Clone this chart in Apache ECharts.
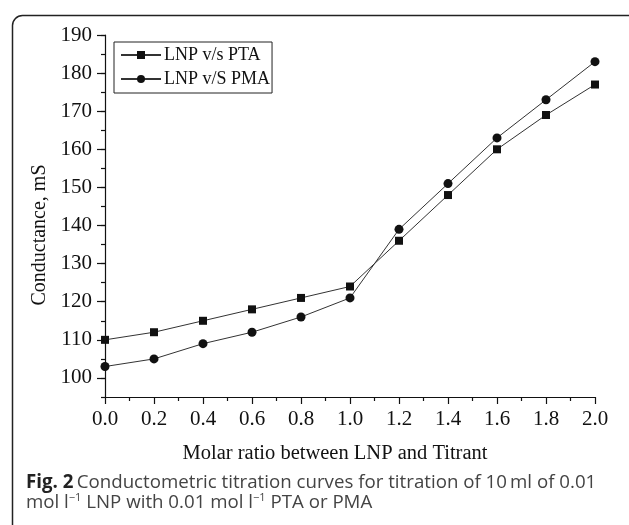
<!DOCTYPE html>
<html>
<head>
<meta charset="utf-8">
<script src="https://cdn.jsdelivr.net/npm/echarts@6/dist/echarts.min.js"></script>
<style>html,body{margin:0;padding:0;background:#fff}#c{width:629px;height:525px}</style>
</head>
<body>
<div id="c"></div>
<script>
var molarRatio = [0.0, 0.2, 0.4, 0.6, 0.8, 1.0, 1.2, 1.4, 1.6, 1.8, 2.0];
var ptaValues = [110, 112, 115, 118, 121, 124, 136, 148, 160, 169, 177];
var pmaValues = [103, 105, 109, 112, 116, 121, 139, 151, 163, 173, 183];
var yLabelValues = [100, 110, 120, 130, 140, 150, 160, 170, 180, 190];
var seriesNames = ['LNP v/s PTA', 'LNP v/S PMA'];

var serif = '"Liberation Serif","DejaVu Serif",serif';
var sans = '"Open Sans","Noto Sans",sans-serif';
function pairs(xs, ys){ return xs.map(function(x,i){ return [x, ys[i]]; }); }

var chart = echarts.init(document.getElementById('c'), null, {renderer:'canvas'});
chart.setOption({
  animation: false,
  backgroundColor: '#fff',
  grid: {left: 105, right: 34, top: 35, bottom: 128, containLabel: false},
  legend: {
    orient: 'vertical', left: 114, top: 42,
    padding: [4, 2, 5, 6], itemGap: 6,
    borderColor: '#222', borderWidth: 1,
    itemWidth: 40, itemHeight: 10,
    textStyle: {fontFamily: serif, fontSize: 18, color: '#111', padding: [0,0,0,-2]},
    data: seriesNames
  },
  xAxis: {
    type: 'value', min: 0, max: 2, interval: 0.2,
    name: 'Molar ratio between LNP and Titrant',
    nameLocation: 'middle', nameGap: 46,
    nameTextStyle: {fontFamily: serif, fontSize: 20.5, color: '#111', padding: [0, 30, 0, 0]},
    axisLine: {lineStyle: {color: '#111', width: 1.2}},
    axisTick: {length: 7, lineStyle: {color: '#111', width: 1.2}},
    minorTick: {show: true, splitNumber: 2, length: 4, lineStyle: {color: '#111', width: 1.2}},
    splitLine: {show: false}, minorSplitLine: {show: false},
    axisLabel: {fontFamily: serif, fontSize: 21, color: '#111', margin: 12,
      formatter: function(v){ return v.toFixed(1); }}
  },
  yAxis: [{
    type: 'value', min: 95, max: 190, interval: 5,
    name: 'Conductance, mS',
    nameLocation: 'middle', nameGap: 54, nameRotate: 90,
    nameTextStyle: {fontFamily: serif, fontSize: 20, color: '#111', padding: [0, 0, 0, -38]},
    axisLine: {show: true, lineStyle: {color: '#111', width: 1.2}},
    axisTick: {show: true, length: 4, lineStyle: {color: '#111', width: 1.2}},
    splitLine: {show: false},
    axisLabel: {fontFamily: serif, fontSize: 21, color: '#111', margin: 13,
      formatter: function(v){ return (v % 10 === 0) ? String(v) : ''; }}
  }, {
    type: 'value', min: 95, max: 190, interval: 5, position: 'left',
    axisLine: {show: false},
    axisTick: {show: true, length: 8, customValues: yLabelValues, lineStyle: {color: '#111', width: 1.2}},
    axisLabel: {show: false},
    splitLine: {show: false}
  }],
  series: [{
    name: seriesNames[0], type: 'line', data: pairs(molarRatio, ptaValues),
    symbol: 'rect', symbolSize: 8,
    lineStyle: {color: '#333', width: 1},
    itemStyle: {color: '#111'}
  }, {
    name: seriesNames[1], type: 'line', data: pairs(molarRatio, pmaValues),
    symbol: 'circle', symbolSize: 9,
    lineStyle: {color: '#333', width: 1},
    itemStyle: {color: '#111'}
  }],
  graphic: [{
    type: 'rect', left: 10, top: 13, silent: true,
    shape: {x: 0, y: 0, width: 625, height: 540, r: 10},
    style: {fill: 'none', stroke: '#222', lineWidth: 1.5}
  }, {
    type: 'text', left: 26, top: 473,
    style: {
      text: '{b|Fig. 2} {r|Conductometric titration curves for titration of 10\u2009ml of 0.01}\n{r|mol l}{s|\u22121}{r| LNP with 0.01 mol l}{s|\u22121}{r| PTA or PMA}',
      rich: {
        b: {fontFamily: sans, fontWeight: 'bold', fontSize: 18.7, fill: '#222', lineHeight: 20},
        r: {fontFamily: sans, fontSize: 18.7, fill: '#444', lineHeight: 20},
        s: {fontFamily: sans, fontSize: 11, fill: '#444', lineHeight: 20, verticalAlign: 'top', padding: [0,0,7,0]}
      }
    }
  }]
});
</script>
</body>
</html>
